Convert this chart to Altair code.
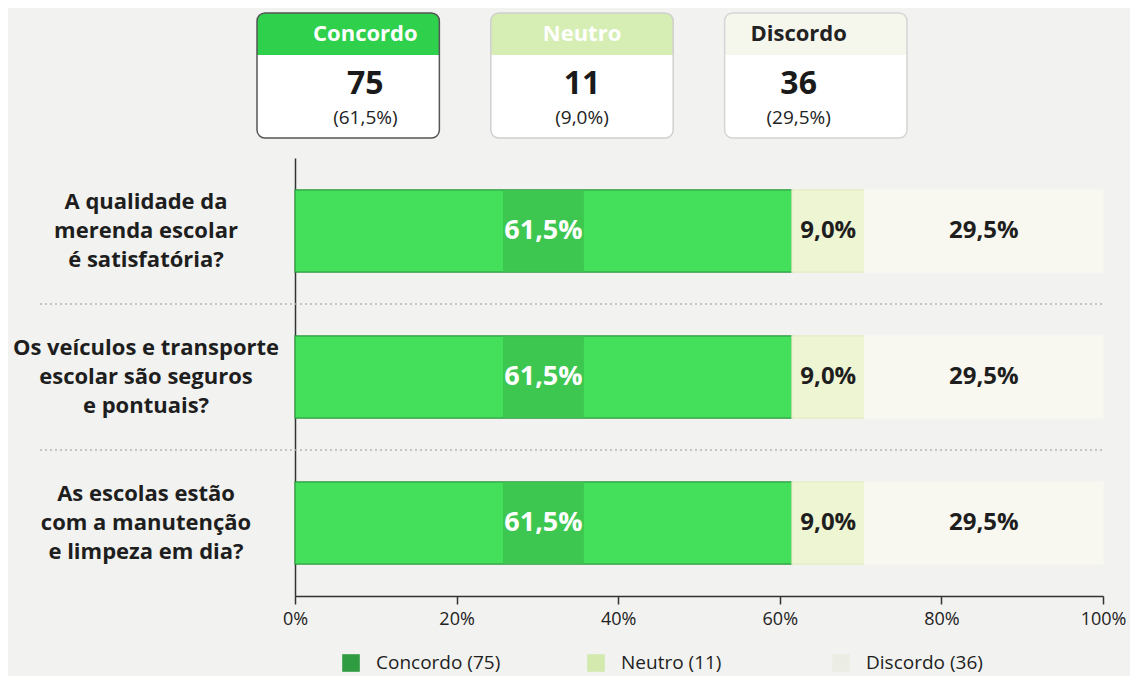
import altair as alt
import pandas as pd

# ---- data ----
questions = [
    "A qualidade da|merenda escolar|é satisfatória?",
    "Os veículos e transporte|escolar são seguros|e pontuais?",
    "As escolas estão|com a manutenção|e limpeza em dia?",
]
categories = ["Concordo", "Neutro", "Discordo"]
counts = [75, 11, 36]
totals_pct = [61.5, 9.0, 29.5]
concordo_pct = [61.5, 61.5, 61.5]
neutro_pct = [9.0, 9.0, 9.0]
discordo_pct = [29.5, 29.5, 29.5]

FONT = "Open Sans"


def fmt(v):
    return f"{v:.1f}".replace(".", ",") + "%"


rows = []
for i, q in enumerate(questions):
    start = 0.0
    for cat, vals in zip(categories, [concordo_pct, neutro_pct, discordo_pct]):
        v = vals[i] / 100.0
        rows.append({"q": q, "cat": cat, "start": start, "end": start + v,
                     "mid": start + v / 2, "label": fmt(vals[i])})
        start += v
bars_df = pd.DataFrame(rows)
q_df = pd.DataFrame({"q": questions})
sep_df = pd.DataFrame({"q": questions[1:]})
cards_df = pd.DataFrame({
    "cat": categories,
    "count": [str(c) for c in counts],
    "pct": ["(" + fmt(p) + ")" for p in totals_pct],
})
legend_df = pd.DataFrame({
    "cat": categories,
    "label": [f"{c} ({n})" for c, n in zip(categories, counts)],
})

bar_colors = ["#45e05b", "#eef5d3", "#f8f8f0"]
header_colors = ["#2fd04b", "#d6eeb4", "#f6f7ec"]
header_text_colors = ["#ffffff", "#ffffff", "#222222"]
card_stroke_colors = ["#555555", "#cfcfcf", "#d5d5d5"]
legend_colors = ["#2f9c42", "#d3e9ae", "#ebede4"]

W = 808
y_scale = alt.Scale(domain=questions, paddingInner=0.438, paddingOuter=0.219)
y_axis = alt.Axis(labels=False, ticks=False, domain=True, domainColor="#333",
                  domainWidth=1.5, title=None, grid=False)
x_scale = alt.Scale(domain=[0, 1], nice=False)
card_scale = alt.Scale(domain=categories, range=[-38, 612], paddingInner=0.22, paddingOuter=0)
legend_scale = alt.Scale(type="point", domain=categories, range=[56, 546], padding=0)

# ---- main bars ----
base = alt.Chart(bars_df)
bars = base.mark_bar(strokeWidth=1.2).encode(
    x=alt.X("start:Q", scale=x_scale,
            axis=alt.Axis(format=".0%", values=[0, 0.2, 0.4, 0.6, 0.8, 1.0],
                          labelFontSize=18, labelColor="#222", labelFont=FONT,
                          labelFlush=False,
                          tickSize=8, tickColor="#333", domainColor="#333",
                          domainWidth=1.5, tickWidth=1.5, labelPadding=6,
                          grid=False, title=None)),
    x2="end:Q",
    y=alt.Y("q:N", scale=y_scale, axis=y_axis),
    color=alt.Color("cat:N", scale=alt.Scale(domain=categories, range=bar_colors), legend=None),
    stroke=alt.Stroke("cat:N", scale=alt.Scale(domain=categories,
                                               range=["#2a9a3c", "#e4ecc4", "#f8f8f0"]),
                      legend=None),
)

patch = base.transform_filter(alt.datum.cat == "Concordo").transform_calculate(
    p0="datum.mid - 0.05", p1="datum.mid + 0.05"
).mark_bar(color="#3cc34f", opacity=0.9).encode(
    x=alt.X("p0:Q", scale=x_scale, axis=None),
    x2="p1:Q",
    y=alt.Y("q:N", scale=y_scale, axis=y_axis),
)

lbl_main = base.transform_filter(alt.datum.cat == "Concordo").mark_text(
    font=FONT, fontSize=27, fontWeight="bold", color="white"
).encode(
    x=alt.X("mid:Q", scale=x_scale, axis=None),
    y=alt.Y("q:N", scale=y_scale, axis=y_axis),
    text="label:N",
)
lbl_other = base.transform_filter(alt.datum.cat != "Concordo").mark_text(
    font=FONT, fontSize=24, fontWeight="bold", color="#1e1e1e"
).encode(
    x=alt.X("mid:Q", scale=x_scale, axis=None),
    y=alt.Y("q:N", scale=y_scale, axis=y_axis),
    text="label:N",
)

# ---- row labels & separators ----
row_labels = alt.Chart(q_df).mark_text(
    font=FONT, fontSize=22, fontWeight="bold", color="#1e1e1e",
    lineBreak="|", lineHeight=29, align="center", baseline="middle", dy=-29
).encode(
    x=alt.value(-149),
    y=alt.Y("q:N", scale=y_scale, axis=y_axis),
    text="q:N",
)

seps = alt.Chart(sep_df).mark_rule(
    color="#b5b5b5", strokeDash=[2, 3], strokeWidth=1.5, yOffset=-73
).encode(
    x=alt.value(-255), x2=alt.value(W),
    y=alt.Y("q:N", scale=y_scale, axis=y_axis),
)

# ---- cards ----
cbase = alt.Chart(cards_df)
card_body = cbase.mark_bar(cornerRadius=8, color="white").encode(
    x=alt.X("cat:N", scale=card_scale, axis=None),
    y=alt.value(-145), y2=alt.value(-20),
)
card_head = cbase.mark_bar(cornerRadiusTopLeft=8, cornerRadiusTopRight=8).encode(
    x=alt.X("cat:N", scale=card_scale, axis=None),
    y=alt.value(-145), y2=alt.value(-103),
    color=alt.Color("cat:N", scale=alt.Scale(domain=categories, range=header_colors), legend=None),
)
card_outline = cbase.mark_bar(cornerRadius=8, fillOpacity=0, strokeWidth=1.5).encode(
    x=alt.X("cat:N", scale=card_scale, axis=None),
    y=alt.value(-145), y2=alt.value(-20),
    stroke=alt.Stroke("cat:N", scale=alt.Scale(domain=categories, range=card_stroke_colors),
                      legend=None),
)
card_title = cbase.mark_text(font=FONT, fontSize=22, fontWeight="bold").encode(
    x=alt.X("cat:N", scale=card_scale, axis=None),
    y=alt.value(-124),
    text="cat:N",
    color=alt.Color("cat:N", scale=alt.Scale(domain=categories, range=header_text_colors),
                    legend=None),
)
card_num = cbase.mark_text(font=FONT, fontSize=32, fontWeight="bold", color="#1a1a1a",
                           baseline="alphabetic").encode(
    x=alt.X("cat:N", scale=card_scale, axis=None),
    y=alt.value(-64),
    text="count:N",
)
card_pct = cbase.mark_text(font=FONT, fontSize=19, color="#222",
                           baseline="alphabetic").encode(
    x=alt.X("cat:N", scale=card_scale, axis=None),
    y=alt.value(-34),
    text="pct:N",
)

# ---- legend ----
lbase = alt.Chart(legend_df)
leg_sq = lbase.mark_square(size=310, opacity=1).encode(
    x=alt.X("cat:N", scale=legend_scale, axis=None),
    y=alt.value(505),
    color=alt.Color("cat:N", scale=alt.Scale(domain=categories, range=legend_colors), legend=None),
)
leg_txt = lbase.mark_text(font=FONT, fontSize=19, color="#1e1e1e", align="left", dx=25).encode(
    x=alt.X("cat:N", scale=legend_scale, axis=None),
    y=alt.value(505),
    text="label:N",
)

chart = alt.layer(
    bars, seps, patch, lbl_main, lbl_other, row_labels,
    card_body, card_head, card_outline, card_title, card_num, card_pct,
    leg_sq, leg_txt,
).resolve_scale(
    x="independent", color="independent", stroke="independent"
).properties(
    width=W, height=438,
    padding={"left": 287, "top": 150, "right": 1122 - 287 - W, "bottom": 80},
    autosize=alt.AutoSizeParams(type="none"),
    background="#f2f2f0",
).configure_view(stroke=None)

chart.save("out.html", embed_options={"renderer": "svg", "actions": False})
